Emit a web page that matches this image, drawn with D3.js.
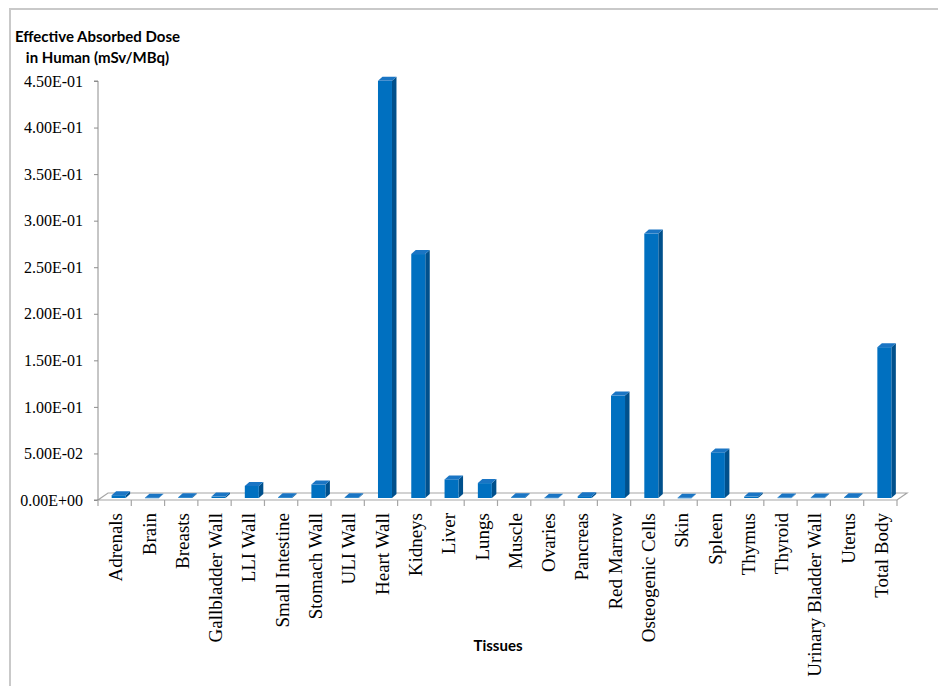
<!DOCTYPE html>
<html>
<head>
<meta charset="utf-8">
<script src="https://cdn.jsdelivr.net/npm/d3@7"></script>
<style>
html,body{margin:0;padding:0;background:#fff;}
svg{display:block;}
.serif{font-family:'Liberation Serif','Times New Roman',serif;}
</style>
</head>
<body>
<svg id="chart" width="938" height="686"></svg>
<script>
const categories = ["Adrenals","Brain","Breasts","Gallbladder Wall","LLI Wall","Small Intestine","Stomach Wall","ULI Wall","Heart Wall","Kidneys","Liver","Lungs","Muscle","Ovaries","Pancreas","Red Marrow","Osteogenic Cells","Skin","Spleen","Thymus","Thyroid","Urinary Bladder Wall","Uterus","Total Body"];
const values = [0.003,0.0004,0.0008,0.0015,0.013,0.0008,0.0145,0.0008,0.448,0.262,0.020,0.016,0.0008,0.0004,0.002,0.110,0.284,0.0003,0.049,0.0015,0.0005,0.0005,0.0008,0.162];
const yTicks = [0,0.05,0.10,0.15,0.20,0.25,0.30,0.35,0.40,0.45];
const yTickLabels = ["0.00E+00","5.00E-02","1.00E-01","1.50E-01","2.00E-01","2.50E-01","3.00E-01","3.50E-01","4.00E-01","4.50E-01"];
const titleLines = ["Effective Absorbed Dose","in Human (mSv/MBq)"];
const xTitle = "Tissues";

const svg = d3.select("#chart");
const X0 = 98, X1 = 897, Y0 = 500, Y1 = 81;
const x = d3.scaleBand().domain(categories).range([X0, X1]).padding(0);
const y = d3.scaleLinear().domain([0, 0.45]).range([Y0, Y1]);

// outer frame
svg.append("rect").attr("x",10).attr("y",9).attr("width",1000).attr("height",800)
  .attr("fill","none").attr("stroke","#c9c9c9").attr("stroke-width",2);

// floor
const fdx = 10, fdy = -7;
svg.append("path")
  .attr("d", `M${X0},${Y0} L${X1},${Y0} L${X1+fdx},${Y0+fdy} L${X0+fdx},${Y0+fdy} Z`)
  .attr("fill","#fff").attr("stroke","#a6a6a6").attr("stroke-width",1.2);

// y axis
const yAxis = d3.axisLeft(y).tickValues(yTicks).tickSize(4)
  .tickFormat((d,i) => yTickLabels[i]);
const gy = svg.append("g").attr("transform",`translate(${X0},0)`).call(yAxis)
  .attr("font-family","'Liberation Serif','Times New Roman',serif").attr("font-size",16);
gy.select(".domain").attr("stroke","#8c8c8c").attr("d",`M-4,${Y1}H0V${Y0}H-4`);
gy.selectAll(".tick line").attr("stroke","#8c8c8c");
gy.selectAll(".tick text").attr("x",-15).attr("class","serif")
  .style("font-size","16px").attr("fill","#000");

// x axis ticks (front floor edge)
const bw = x.bandwidth();
const bounds = categories.map(c => x(c)).concat([X1]);
svg.append("g").selectAll("line").data(bounds).join("line")
  .attr("x1", d => d).attr("x2", d => d)
  .attr("y1", Y0).attr("y2", Y0 + 6)
  .attr("stroke","#a6a6a6").attr("stroke-width",1.2);

// bars (3D)
const bdx = 4.5, bdy = -4, bw0 = 14, lift = 2;
const bars = svg.append("g").selectAll("g").data(categories).join("g");
bars.each(function(c, i) {
  const g = d3.select(this);
  const xl = x(c) + bw/2 - 3;
  const xr = xl + bw0;
  const yt = y(values[i]) - lift;
  const yb = y(0) - lift;
  g.append("path")
    .attr("d", `M${xr},${yb} L${xr+bdx},${yb+bdy} L${xr+bdx},${yt+bdy} L${xr},${yt} Z`)
    .attr("fill","#00508c");
  g.append("rect").attr("x", xl).attr("y", yt).attr("width", bw0).attr("height", Math.max(0.6, yb - yt))
    .attr("fill","#0070c0");
  g.append("path")
    .attr("d", `M${xl},${yt} L${xr},${yt} L${xr+bdx},${yt+bdy} L${xl+bdx},${yt+bdy} Z`)
    .attr("fill","#1a75c4");
});

// x labels
svg.append("g").selectAll("text").data(categories).join("text")
  .attr("class","serif")
  .attr("transform", c => `translate(${x(c) + bw/2 + 1},513) rotate(-90)`)
  .attr("text-anchor","end").attr("dy","0.35em")
  .style("font-size","19px").attr("fill","#000")
  .text(c => c);

// titles
svg.append("g").selectAll("text").data(titleLines).join("text")
  .attr("x", 97.5).attr("y", (d,i) => 42 + i*21)
  .attr("text-anchor","middle")
  .style("font-family","Lato,'Open Sans',sans-serif").style("font-weight","bold")
  .style("font-size","15px").attr("fill","#000")
  .text(d => d);

svg.append("text").attr("x", 498).attr("y", 651).attr("text-anchor","middle")
  .style("font-family","Lato,'Open Sans',sans-serif").style("font-weight","bold")
  .style("font-size","15px").attr("fill","#000").text(xTitle);
</script>
</body>
</html>
